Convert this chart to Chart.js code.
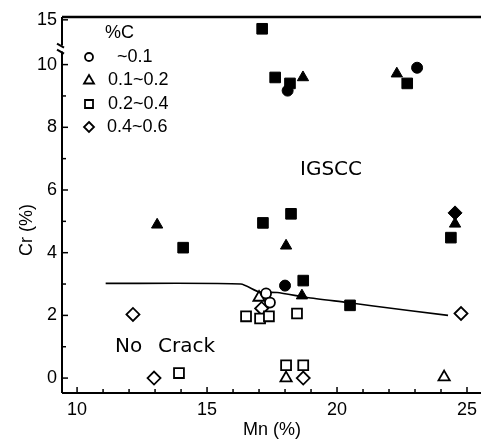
<!DOCTYPE html>
<html>
<head>
<meta charset="utf-8">
<script src="https://cdn.jsdelivr.net/npm/chart.js@4/dist/chart.umd.min.js"></script>
<style>
  html, body { margin: 0; padding: 0; background: #fff; }
  #wrap { width: 481px; height: 442px; }
</style>
</head>
<body>
<div id="wrap"><canvas id="crChart" width="481" height="442"></canvas></div>
<script>
// [Mn %, Cr %] pairs. filled = IGSCC, open = no crack
// circle ~0.1 %C, triangle 0.1~0.2, square 0.2~0.4, diamond 0.4~0.6
const crackCircle = [[23.08, 9.9], [18.1, 9.17], [18.0, 2.95]];
const crackTriangle = [[13.08, 4.89], [18.69, 9.59], [22.3, 9.71], [18.04, 4.22], [18.65, 2.63], [24.54, 4.92]];
const crackSquare = [[17.12, 14.0], [17.62, 9.59], [18.19, 9.4], [22.7, 9.4], [14.08, 4.16], [17.15, 4.95],
                     [18.23, 5.24], [18.7, 3.11], [20.5, 2.32], [24.38, 4.48]];
const crackDiamond = [[24.54, 5.27]];

const noCrackCircle = [[17.27, 2.7], [17.42, 2.41]];
const noCrackTriangle = [[17.0, 2.57], [18.04, 0.0], [24.12, 0.03]];
const noCrackSquare = [[13.92, 0.16], [16.5, 1.97], [17.04, 1.9], [17.38, 1.97], [18.46, 2.06], [18.04, 0.41], [18.7, 0.41]];
const noCrackDiamond = [[12.15, 2.03], [12.96, 0.0], [17.1, 2.22], [24.77, 2.06], [18.7, 0.0]];

// boundary between IGSCC and No Crack
const boundaryMn = [11.1, 16.3, 17.0, 17.7, 18.85, 20.4, 21.4, 24.27];
const boundaryCr = [3.02, 3.0, 2.75, 2.73, 2.57, 2.41, 2.3, 2.0];

const carbonLabels = ['~0.1', '0.1~0.2', '0.2~0.4', '0.4~0.6'];
const xTicks = [10, 15, 20, 25];
const yTicks = [0, 2, 4, 6, 8, 10, 15];

// y axis is broken above 10 (10..15 squeezed)
const breakRatio = 9 / 31.5;
function toAxis(cr) { return cr <= 10 ? cr : 10 + (cr - 10) * breakRatio; }
function pts(list) { return list.map(p => ({ x: p[0], y: toAxis(p[1]) })); }

const fontName = '"Liberation Sans", Arial, sans-serif';
const tickFont = { family: fontName, size: 18 };

function marker(data, style, filled, r) {
    return {
        type: 'scatter',
        data: pts(data),
        pointStyle: style,
        pointRadius: r,
        pointHoverRadius: r,
        pointBackgroundColor: filled ? '#000' : '#fff',
        pointBorderColor: '#000',
        pointBorderWidth: filled ? 1 : 1.8,
        order: 1
    };
}

function strokeLine(ctx, x1, y1, x2, y2) {
    ctx.beginPath();
    ctx.moveTo(x1, y1);
    ctx.lineTo(x2, y2);
    ctx.stroke();
}

const framePlugin = {
    id: 'frame',
    beforeDatasetsDraw(chart) {
        const { ctx, chartArea: a, scales: { x, y } } = chart;
        ctx.save();
        ctx.strokeStyle = '#000';
        ctx.lineWidth = 2.5;
        strokeLine(ctx, a.left, a.top, chart.width, a.top);
        // left axis with break
        const y10 = y.getPixelForValue(10);
        ctx.lineWidth = 2;
        strokeLine(ctx, a.left, a.top, a.left, y10 - 19);
        strokeLine(ctx, a.left, y10 - 13, a.left, a.bottom);
        strokeLine(ctx, a.left - 5, y10 - 21, a.left + 2, y10 - 17);
        strokeLine(ctx, a.left - 5, y10 - 15, a.left + 2, y10 - 11);
        strokeLine(ctx, a.left, a.bottom, chart.width, a.bottom);

        ctx.lineWidth = 1.5;
        for (let v = 10; v <= 25; v++) {
            const px = x.getPixelForValue(v);
            strokeLine(ctx, px, a.bottom, px, a.bottom - (v % 5 === 0 ? 6 : 4));
        }
        for (let v = 0; v <= 10; v++) {
            const py = y.getPixelForValue(v);
            strokeLine(ctx, a.left, py, a.left + (v % 2 === 0 ? 6 : 4), py);
        }
        const p15 = y.getPixelForValue(toAxis(15));
        strokeLine(ctx, a.left, p15, a.left + 6, p15);

        // x tick labels, placed through the x scale
        ctx.fillStyle = '#000';
        ctx.font = '18px ' + fontName;
        ctx.textAlign = 'center';
        ctx.textBaseline = 'middle';
        xTicks.forEach(v => ctx.fillText(String(v), x.getPixelForValue(v), a.bottom + 17));
        ctx.restore();
    },
    afterDatasetsDraw(chart) {
        const { ctx } = chart;
        ctx.save();
        ctx.fillStyle = '#000';
        ctx.textBaseline = 'middle';

        ctx.font = '18px ' + fontName;
        ctx.textAlign = 'center';
        ctx.fillText('Mn (%)', 272, 430);
        ctx.save();
        ctx.translate(27, 230);
        ctx.rotate(-Math.PI / 2);
        ctx.fillText('Cr (%)', 0, 0);
        ctx.restore();

        ctx.font = '20px "DejaVu Sans", sans-serif';
        ctx.fillText('IGSCC', 331, 170);
        ctx.textAlign = 'left';
        ctx.fillText('No', 115, 347);
        ctx.fillText('Crack', 158, 347);

        // legend
        ctx.font = '18px ' + fontName;
        ctx.fillText('%C', 105, 33);
        const rows = [57, 80, 104, 127];
        const offs = [117, 108, 108, 107];
        ctx.lineWidth = 1.8;
        ctx.strokeStyle = '#000';
        rows.forEach((ry, i) => {
            const cx = 89;
            ctx.beginPath();
            if (i === 0) ctx.arc(cx, ry, 4, 0, Math.PI * 2);
            if (i === 1) { ctx.moveTo(cx, ry - 5); ctx.lineTo(cx + 5, ry + 3.5); ctx.lineTo(cx - 5, ry + 3.5); ctx.closePath(); }
            if (i === 2) ctx.rect(cx - 4, ry - 4, 8, 8);
            if (i === 3) { ctx.moveTo(cx, ry - 5); ctx.lineTo(cx + 5, ry); ctx.lineTo(cx, ry + 5); ctx.lineTo(cx - 5, ry); ctx.closePath(); }
            ctx.stroke();
            ctx.fillText(carbonLabels[i], offs[i], ry);
        });
        ctx.restore();
    }
};

const datasets = [
    marker(crackCircle, 'circle', true, 5.5),
    marker(crackTriangle, 'triangle', true, 6.5),
    marker(crackSquare, 'rect', true, 7.5),
    marker(crackDiamond, 'rectRot', true, 7),
    marker(noCrackCircle, 'circle', false, 5),
    marker(noCrackTriangle, 'triangle', false, 6.5),
    marker(noCrackSquare, 'rect', false, 7),
    marker(noCrackDiamond, 'rectRot', false, 6.5),
    {
        type: 'line',
        data: boundaryMn.map((m, i) => ({ x: m, y: boundaryCr[i] })),
        borderColor: '#000',
        borderWidth: 1.6,
        pointRadius: 0,
        tension: 0.2,
        fill: false,
        order: 10
    }
];

new Chart(document.getElementById('crChart'), {
    type: 'scatter',
    data: { datasets: datasets },
    options: {
        responsive: false,
        animation: false,
        layout: { autoPadding: false, padding: { top: 17, right: 1, left: 0, bottom: 0 } },
        plugins: { legend: { display: false }, tooltip: { enabled: false } },
        clip: false,
        scales: {
            x: {
                type: 'linear',
                min: 9.42,
                max: 25.5,
                afterBuildTicks: s => { s.ticks = xTicks.map(v => ({ value: v })); },
                afterFit: s => { s.height = 49; },
                grid: { display: false, drawTicks: false },
                border: { display: false },
                ticks: { display: false }
            },
            y: {
                type: 'linear',
                min: -0.476,
                max: toAxis(15) + 0.09,
                afterBuildTicks: s => { s.ticks = yTicks.map(v => ({ value: toAxis(v) })); },
                afterFit: s => { s.width = 62; },
                grid: { display: false, drawTicks: false },
                border: { display: false },
                ticks: {
                    font: tickFont, color: '#000', padding: 5,
                    callback: (val, i) => String(yTicks[i])
                }
            }
        }
    },
    plugins: [framePlugin]
});
</script>
</body>
</html>
